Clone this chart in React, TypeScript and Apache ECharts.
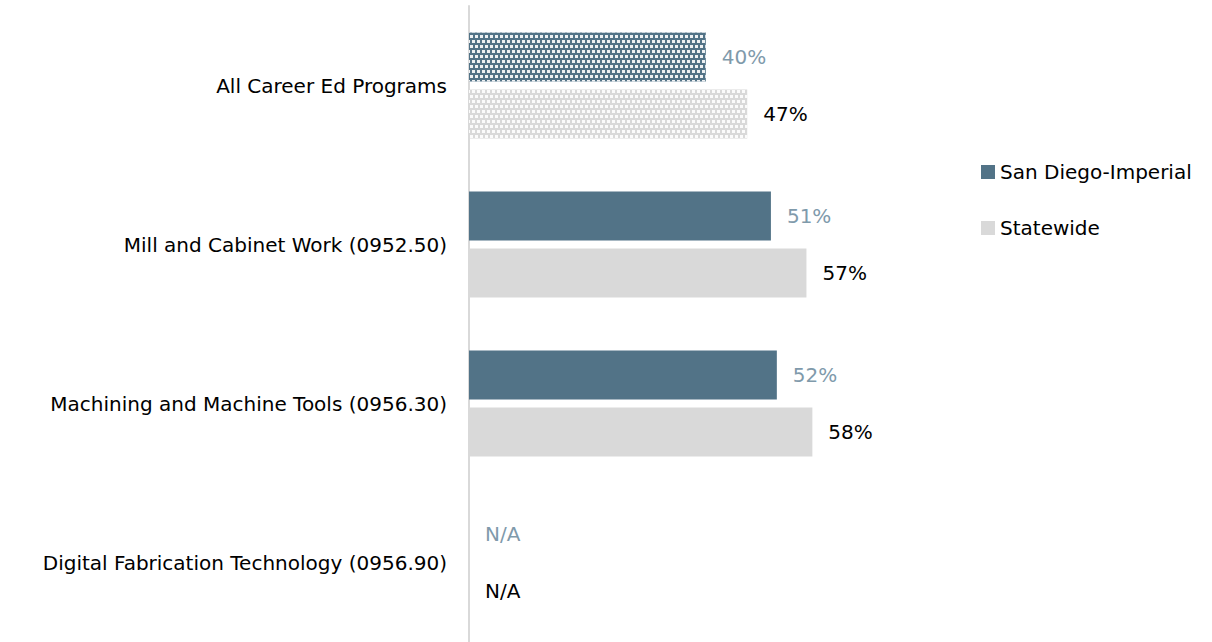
import React, { useEffect, useRef } from "react";
import * as echarts from "echarts";

const categories = [
  "All Career Ed Programs",
  "Mill and Cabinet Work (0952.50)",
  "Machining and Machine Tools (0956.30)",
  "Digital Fabrication Technology (0956.90)",
];
const sanDiegoValues: (number | null)[] = [40, 51, 52, null];
const statewideValues: (number | null)[] = [47, 57, 58, null];
const seriesNames = ["San Diego-Imperial", "Statewide"];

const FONT = "DejaVu Sans";
const SD_COLOR = "#527387";
const SW_COLOR = "#d9d9d9";

function buildData(vals: (number | null)[], color: string, patternColor: string) {
  return vals.map((v, i) => {
    const item: any = { value: v == null ? 0 : v, na: v == null };
    if (i === 0) {
      item.itemStyle = {
        color: color,
        decal: {
          symbol: "rect",
          symbolSize: 1,
          dashArrayX: [
            [3, 2],
            [0, 2, 3, 0],
          ],
          dashArrayY: [3, 2],
          color: patternColor,
        },
      };
    }
    return item;
  });
}

export default function App() {
  const ref = useRef<HTMLDivElement>(null);
  useEffect(() => {
    if (!ref.current) return;
    const chart = echarts.init(ref.current, undefined, { renderer: "svg" });
    const labelFmt = (p: any) => (p.data.na ? "N/A" : p.value + "%");
    chart.setOption({
      animation: false,
      textStyle: { fontFamily: FONT },
      legend: {
        orient: "vertical",
        left: 976,
        top: 157,
        itemWidth: 14,
        itemHeight: 14,
        itemGap: 36,
        icon: "rect",
        textStyle: { fontSize: 20, lineHeight: 20, color: "#000", fontFamily: FONT },
        data: seriesNames,
      },
      grid: { left: 469, top: 6, width: 592, bottom: 0, containLabel: false },
      xAxis: {
        type: "value",
        min: 0,
        max: 100,
        show: false,
      },
      yAxis: {
        type: "category",
        inverse: true,
        data: categories,
        axisLine: { show: true, lineStyle: { color: "#d9d9d9", width: 2 } },
        axisTick: { show: false },
        axisLabel: { margin: 22, fontSize: 20, color: "#000", fontFamily: FONT },
      },
      series: [
        {
          name: seriesNames[0],
          type: "bar",
          barWidth: 49,
          barGap: "16%",
          itemStyle: { color: SD_COLOR },
          label: {
            show: true,
            position: "right",
            distance: 16,
            color: "#7f9aab",
            fontSize: 20,
            fontFamily: FONT,
            formatter: labelFmt,
          },
          data: buildData(sanDiegoValues, SD_COLOR, "rgba(255,255,255,0.9)"),
        },
        {
          name: seriesNames[1],
          type: "bar",
          barWidth: 49,
          barGap: "16%",
          itemStyle: { color: SW_COLOR },
          label: {
            show: true,
            position: "right",
            distance: 16,
            color: "#000",
            fontSize: 20,
            fontFamily: FONT,
            formatter: labelFmt,
          },
          data: buildData(statewideValues, SW_COLOR, "rgba(255,255,255,0.9)"),
        },
      ],
    });
    return () => chart.dispose();
  }, []);
  return (
    <div
      ref={ref}
      style={{ position: "absolute", left: 0, top: 0, width: 1212, height: 642 }}
    />
  );
}
